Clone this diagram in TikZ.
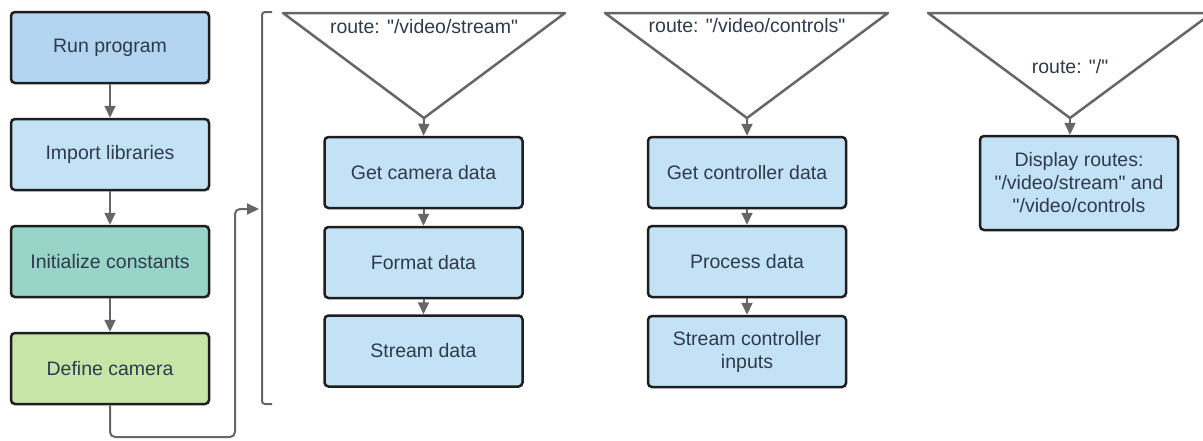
\documentclass[tikz,border=0pt]{standalone}
\usepackage{fontspec}
\setmainfont{Liberation Sans}[Ligatures=TeXOff]
\usetikzlibrary{arrows.meta}
\definecolor{runfill}{HTML}{B3D5F1}
\definecolor{boxfill}{HTML}{C3E2F6}
\definecolor{tealfill}{HTML}{98D4C8}
\definecolor{greenfill}{HTML}{C6E5A7}
\definecolor{txt}{HTML}{2F3B4B}
\definecolor{edge}{HTML}{666666}
\definecolor{border}{HTML}{1E1E1E}
\begin{document}
\begin{tikzpicture}[x=1pt,y=-1pt,
  box/.style={draw=border, line width=2.5pt, rounded corners=4pt, text=txt,
    font=\fontsize{19.5}{23}\selectfont, align=center, inner sep=0pt,
    minimum width=198pt, minimum height=71pt},
  conn/.style={draw=edge, line width=2pt, -{Triangle[width=11pt,length=12pt]}},
  tri/.style={draw=edge, line width=2.5pt, fill=white, line join=round},
  lbl/.style={text=txt, font=\fontsize{19.5}{23}\selectfont, inner sep=0pt, align=center}]
\path[use as bounding box, fill=white] (0,0) rectangle (1203,440);
\begin{scope}
\clip (0,0) rectangle (1203,440);
% left column
\node[box, fill=runfill]   (run)  at (110,47.5)  {Run program};
\node[box, fill=boxfill]   (imp)  at (110,154.5) {Import libraries};
\node[box, fill=tealfill]  (init) at (110,261.5) {Initialize constants};
\node[box, fill=greenfill] (def)  at (110,368.5) {Define camera};
\draw[conn] (run.south) -- (imp.north);
\draw[conn] (imp.south) -- (init.north);
\draw[conn] (init.south) -- (def.north);
% bracket
\coordinate (bk) at (259,209);
\draw[edge, line width=2pt, rounded corners=3pt] (272,12) -- (262,12) -- (262,404) -- (272,404);
\draw[conn, rounded corners=5pt] (def.south) -- (110,437) -- (235,437) -- (235,209) -- (bk);
% triangles
\coordinate (a1) at (424,118);
\coordinate (a2) at (747,118);
\coordinate (a3) at (1070,118);
\draw[tri] (283,13) -- (565,13) -- (a1) -- cycle;
\draw[tri] (605,13) -- (888,13) -- (a2) -- cycle;
\draw[tri] (928,13) -- (1212,13) -- (a3) -- cycle;
\node[lbl] (t1) at (424,27) {route: "/video/stream"};
\node[lbl] (t2) at (747,26) {route: "/video/controls"};
\node[lbl] (t3) at (1070,67) {route: "/"};
% column 2
\node[box, fill=boxfill] (gcam) at (423.5,172.5) {Get camera data};
\node[box, fill=boxfill] (fmt)  at (423.5,262.5) {Format data};
\node[box, fill=boxfill] (sd)   at (423.5,351)   {Stream data};
\draw[conn] (a1) -- (gcam.north);
\draw[conn] (gcam.south) -- (fmt.north);
\draw[conn] (fmt.south) -- (sd.north);
% column 3
\node[box, fill=boxfill] (gctl) at (747,172.5) {Get controller data};
\node[box, fill=boxfill] (proc) at (747,261.5) {Process data};
\node[box, fill=boxfill] (sci)  at (747,351.5) {Stream controller\\inputs};
\draw[conn] (a2) -- (gctl.north);
\draw[conn] (gctl.south) -- (proc.north);
\draw[conn] (proc.south) -- (sci.north);
% column 4
\node[box, fill=boxfill, minimum height=94pt] (disp) at (1079,183) {Display routes:\\"/video/stream" and\\"/video/controls};
\draw[conn] (a3) -- (a3 |- disp.north);
\end{scope}
\end{tikzpicture}
\end{document}
